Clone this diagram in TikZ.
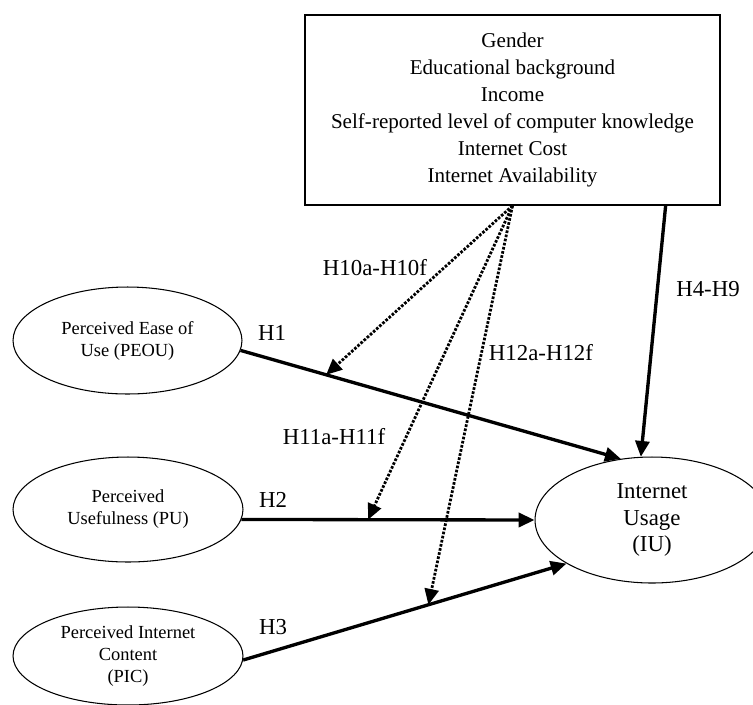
\documentclass[tikz,border=0pt]{standalone}
\usepackage{fontspec}
\setmainfont{Liberation Serif}
\usetikzlibrary{positioning,shapes,arrows.meta}

\tikzset{
  construct/.style={draw, ellipse, line width=0.6pt, inner sep=0pt, align=center, font=\fontsize{10.5}{12.5}\selectfont},
  factorbox/.style={draw, rectangle, line width=0.8pt, align=center, font=\fontsize{12}{15.3}\selectfont},
  hyp/.style={line width=1.9pt, -{Triangle[length=9pt,width=8pt]}},
  moder/.style={line width=1.6pt, dash pattern=on 1.5pt off 0.9pt, -{Triangle[length=9pt,width=8pt]}},
  hlabel/.style={font=\fontsize{13}{15}\selectfont, inner sep=0pt}
}

\begin{document}
\begin{tikzpicture}[x=0.02cm, y=-0.02cm]
\useasboundingbox (0,0) rectangle (753,704);
\node[factorbox, minimum width=8.3cm, minimum height=3.8cm] (factors) at (512.5,110) {Gender\\Educational background\\Income\\Self-reported level of computer knowledge\\Internet Cost\\Internet Availability};
\node[construct, minimum width=4.58cm, minimum height=2.14cm] (peou) at (127.5,340.5) {Perceived Ease of\\Use (PEOU)};
\node[construct, minimum width=4.6cm, minimum height=2.1cm] (pu) at (128,509.5) {Perceived\\Usefulness (PU)};
\node[construct, minimum width=4.6cm, minimum height=1.96cm] (pic) at (128,656) {Perceived Internet\\Content\\(PIC)};
\node[construct, minimum width=4.68cm, minimum height=2.52cm, font=\fontsize{13}{15.3}\selectfont] (iu) at (652,520) {Internet\\Usage\\(IU)};

\draw[hyp] (peou.-5) -- coordinate[pos=.225] (m1) (iu.117);
\draw[hyp] (pu.-5) -- coordinate[pos=.432] (m2) (iu.west);
\draw[hyp] (pic.-2) -- coordinate[pos=.573] (m3) (iu.207);
\draw[hyp] (factors.-32.7) -- (iu.100);

\draw[moder] (factors.south) -- (m1);
\draw[moder] (factors.south) -- (m2);
\draw[moder] (factors.south) -- (m3);

\node[hlabel] (h1) at (272,333) {H1};
\node[hlabel] (h2) at (273,500) {H2};
\node[hlabel] (h3) at (273,627) {H3};
\node[hlabel] (h49) at (708,289) {H4-H9};
\node[hlabel] (h10) at (375,268) {H10a-H10f};
\node[hlabel] (h11) at (334,437) {H11a-H11f};
\node[hlabel] (h12) at (541,353) {H12a-H12f};
\end{tikzpicture}
\end{document}
